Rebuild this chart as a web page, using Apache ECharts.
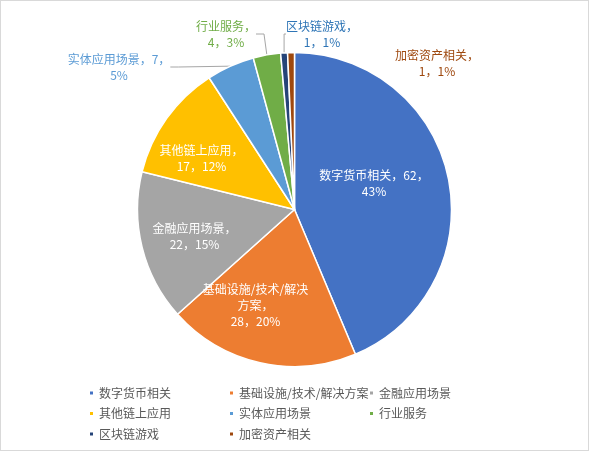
<!DOCTYPE html>
<html>
<head>
    <meta charset="utf-8">
    <title>区块链项目分类</title>
    <script src="https://cdn.jsdelivr.net/npm/echarts@6/dist/echarts.min.js"></script>
    <style>
        html, body { margin: 0; padding: 0; background: #fff; }
        #frame { width: 589px; height: 451px; box-sizing: border-box; border: 1px solid #d9d9d9; }
        #chart { width: 587px; height: 449px; }
    </style>
</head>
<body>
<div id="frame"><div id="chart"></div></div>

<script>
    // 数据
    var categories = ['数字货币相关', '基础设施/技术/解决方案', '金融应用场景', '其他链上应用',
                      '实体应用场景', '行业服务', '区块链游戏', '加密资产相关'];
    var counts = [62, 28, 22, 17, 7, 4, 1, 1];
    var percents = [43, 20, 15, 12, 5, 3, 1, 1];

    var colors = ['#4472C4', '#ED7D31', '#A5A5A5', '#FFC000', '#5B9BD5', '#70AD47', '#264478', '#9E480E'];
    var outsideText = {4: '#5B9BD5', 5: '#70AD47', 6: '#2E75B6', 7: '#9E480E'};

    var cx = 293.5, cy = 208.5, R = 157;
    // 标签放置的位置（仿照Excel的排版）
    var spots = [[373, 182], [254.5, 304], [193.5, 235], [200.5, 157.5],
                 [118, 66], [225, 33], [321, 33], [436, 62]];

    function labelText(i) {
        var name = categories[i], v = counts[i], p = percents[i] + '%';
        if (i === 0 || i === 4) return name + '，' + v + '，\n' + p;
        if (i === 1) return '基础设施/技术/解决\n方案，\n' + v + '，' + p;
        return name + '，\n' + v + '，' + p;
    }

    var pieData = categories.map(function (name, i) {
        var inside = i < 4;
        return {
            name: name,
            value: counts[i],
            itemStyle: {color: colors[i]},
            label: {
                position: inside ? 'inside' : 'outside',
                color: inside ? '#fff' : outsideText[i]
            },
            labelLine: {show: i === 4 || i === 5 || i === 6}
        };
    });

    var legendCols = [[0, 3, 6], [1, 4, 7], [2, 5]];
    var legendLeft = [87, 227, 367];

    var myChart = echarts.init(document.getElementById('chart'));
    myChart.setOption({
        backgroundColor: '#fff',
        animation: false,
        color: colors,
        legend: legendCols.map(function (col, k) {
            return {
                orient: 'vertical',
                left: legendLeft[k],
                top: 386,
                width: 140,
                height: 62,
                padding: 0,
                icon: 'rect',
                itemWidth: 5,
                itemHeight: 5,
                itemGap: 8.5,
                textStyle: {color: '#595959', fontSize: 12, lineHeight: 12,
                    fontFamily: 'Noto Sans CJK SC'},
                data: col.map(function (i) { return categories[i]; })
            };
        }),
        series: [{
            type: 'pie',
            center: [cx, cy],
            radius: R,
            startAngle: 90,
            clockwise: true,
            avoidLabelOverlap: false,
            itemStyle: {borderColor: '#fff', borderWidth: 1.5},
            label: {
                fontSize: 12,
                lineHeight: 16,
                fontFamily: 'Noto Sans CJK SC',
                align: 'center',
                formatter: function (p) { return labelText(p.dataIndex); }
            },
            labelLine: {
                length: 8,
                length2: 8,
                lineStyle: {color: '#a6a6a6', width: 1}
            },
            labelLayout: function (p) {
                var s = spots[p.dataIndex];
                return {x: s[0], y: s[1], align: 'center', verticalAlign: 'middle'};
            },
            data: pieData
        }]
    });
</script>
</body>
</html>
